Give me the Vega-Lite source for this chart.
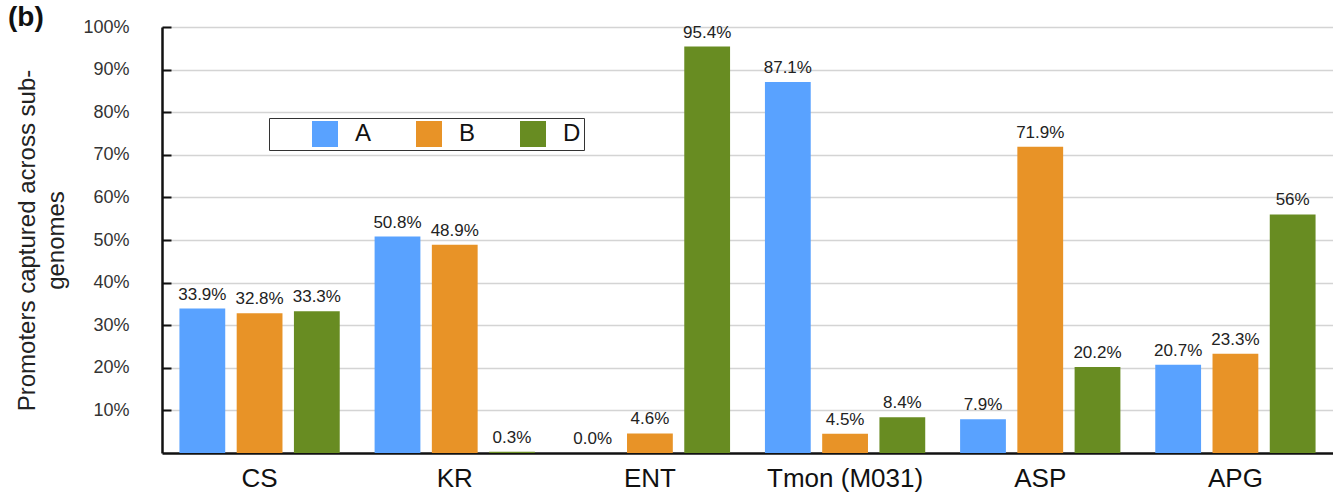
{
  "$schema": "https://vega.github.io/schema/vega-lite/v6.json",
  "width": 1171,
  "height": 426,
  "autosize": {"type": "none"},
  "padding": {"left": 162, "top": 27, "right": 0, "bottom": 44},
  "background": "white",
  "title": {
    "text": "(b)",
    "anchor": "start",
    "frame": "group",
    "orient": "top",
    "dx": -154,
    "offset": -36,
    "baseline": "alphabetic",
    "font": "Liberation Sans",
    "fontSize": 28,
    "fontWeight": "bold",
    "color": "#111"
  },
  "config": {
    "view": {"stroke": null},
    "font": "Liberation Sans"
  },
  "data": {
    "values": [
      {"group": "CS", "genome": "A", "pct": 33.9, "label": "33.9%"},
      {"group": "CS", "genome": "B", "pct": 32.8, "label": "32.8%"},
      {"group": "CS", "genome": "D", "pct": 33.3, "label": "33.3%"},
      {"group": "KR", "genome": "A", "pct": 50.8, "label": "50.8%"},
      {"group": "KR", "genome": "B", "pct": 48.9, "label": "48.9%"},
      {"group": "KR", "genome": "D", "pct": 0.3, "label": "0.3%"},
      {"group": "ENT", "genome": "A", "pct": 0.0, "label": "0.0%"},
      {"group": "ENT", "genome": "B", "pct": 4.6, "label": "4.6%"},
      {"group": "ENT", "genome": "D", "pct": 95.4, "label": "95.4%"},
      {"group": "Tmon (M031)", "genome": "A", "pct": 87.1, "label": "87.1%"},
      {"group": "Tmon (M031)", "genome": "B", "pct": 4.5, "label": "4.5%"},
      {"group": "Tmon (M031)", "genome": "D", "pct": 8.4, "label": "8.4%"},
      {"group": "ASP", "genome": "A", "pct": 7.9, "label": "7.9%"},
      {"group": "ASP", "genome": "B", "pct": 71.9, "label": "71.9%"},
      {"group": "ASP", "genome": "D", "pct": 20.2, "label": "20.2%"},
      {"group": "APG", "genome": "A", "pct": 20.7, "label": "20.7%"},
      {"group": "APG", "genome": "B", "pct": 23.3, "label": "23.3%"},
      {"group": "APG", "genome": "D", "pct": 56, "label": "56%"}
    ]
  },
  "encoding": {
    "x": {
      "field": "group",
      "type": "nominal",
      "sort": null,
      "scale": {"paddingInner": 0.12, "paddingOuter": 0.06},
      "axis": {
        "title": null,
        "labelAngle": 0,
        "labelFontSize": 26,
        "labelColor": "#111",
        "labelPadding": 12,
        "ticks": false,
        "domainColor": "#111",
        "domainWidth": 2.5
      }
    },
    "xOffset": {
      "field": "genome",
      "type": "nominal",
      "sort": ["A", "B", "D"],
      "scale": {"paddingInner": 0.2, "paddingOuter": 0.1}
    }
  },
  "layer": [
    {
      "mark": {"type": "bar"},
      "encoding": {
        "y": {
          "field": "pct",
          "type": "quantitative",
          "scale": {"domain": [0, 100], "nice": false},
          "axis": {
            "title": ["Promoters captured across sub-", "genomes"],
            "titleFontSize": 24,
            "titleFontWeight": "normal",
            "titleColor": "#222",
            "titleLineHeight": 29,
            "titlePadding": 14,
            "values": [10, 20, 30, 40, 50, 60, 70, 80, 90, 100],
            "labelExpr": "datum.value + '%'",
            "labelFontSize": 18,
            "labelColor": "#333",
            "labelPadding": 42,
            "tickSize": -9,
            "tickWidth": 2,
            "tickColor": "#111",
            "domainColor": "#111",
            "domainWidth": 2.5,
            "grid": true,
            "gridColor": "#d4d4d4",
            "gridWidth": 1.5
          }
        },
        "color": {
          "field": "genome",
          "type": "nominal",
          "sort": ["A", "B", "D"],
          "scale": {"domain": ["A", "B", "D"], "range": ["#59a2ff", "#e89327", "#688c22"]},
          "legend": {
            "title": null,
            "orient": "none",
            "legendX": 107,
            "legendY": 91,
            "direction": "horizontal",
            "symbolType": "square",
            "symbolSize": 676,
            "symbolStrokeWidth": 0,
            "symbolOffset": 40,
            "labelOffset": 17,
            "labelFontSize": 24,
            "labelColor": "#111",
            "columnPadding": 4,
            "padding": 3,
            "strokeColor": "#333",
            "fillColor": "white"
          }
        }
      }
    },
    {
      "mark": {"type": "text", "baseline": "bottom", "dy": -5, "fontSize": 17, "color": "#222"},
      "encoding": {
        "y": {"field": "pct", "type": "quantitative"},
        "text": {"field": "label"}
      }
    }
  ]
}
